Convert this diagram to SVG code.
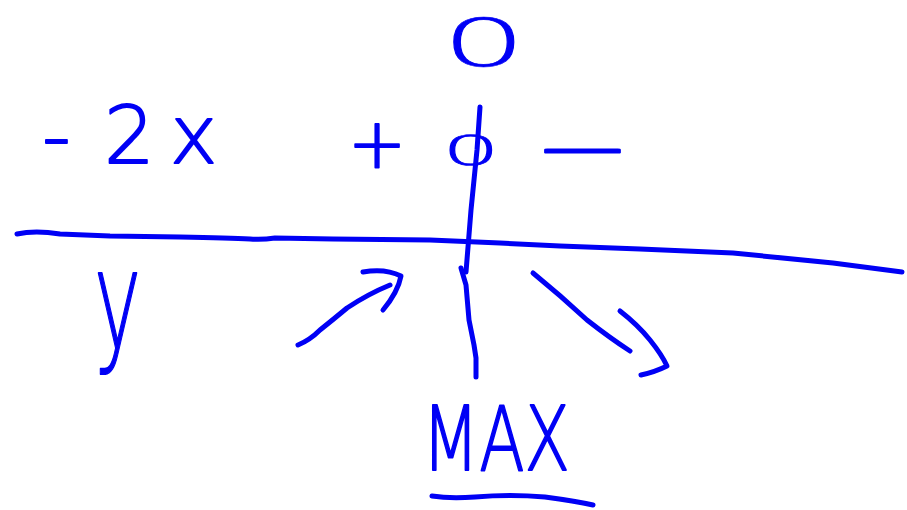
<svg xmlns="http://www.w3.org/2000/svg" width="907" height="510" viewBox="0 0 907 510">
<style>
.ink{fill:none;stroke:#0000f5;stroke-width:5;stroke-linecap:round;stroke-linejoin:round}
.t{fill:#0000f5;stroke:#0000f5;stroke-width:1.8;stroke-linejoin:round;font-family:"DejaVu Sans","Liberation Sans",sans-serif;font-weight:200}
.z{fill:#0000f5;stroke:#0000f5;stroke-width:0.6;font-family:"DejaVu Sans","Liberation Sans",sans-serif;font-weight:200}
</style>
<rect width="907" height="510" fill="#ffffff"/>
<g id="connectors">
<path class="ink" d="M17,234 Q35,230 60,234 L110,236 L180,237 Q230,238 250,239 Q262,240 275,238 L333,239 L430,240 L500,243 L560,246 L640,249 L733,253 L833,263 L902,272"/>
<path class="ink" d="M480,107 L477,150 L471,210 L466,272"/>
<path class="ink" d="M461,268 L466,285 L469,320 L474,345 L476,358 L476,377"/>
<path class="ink" d="M298,345 Q310,340 320,330 Q335,318 347,308 Q368,294 390,285"/>
<path class="ink" d="M363,272 Q385,268 401,276 Q398,292 383,310"/>
<path class="ink" d="M533,273 Q560,295 587,320 Q610,338 630,351"/>
<path class="ink" d="M620,311 Q638,325 650,340 Q662,355 667,366 Q655,372 641,375"/>
<path class="ink" d="M432,496 Q450,499 475,497 Q510,494 545,497 Q575,501 593,505"/>
</g>
<g id="top-zero"><text class="z" x="484" y="66" font-size="65" text-anchor="middle" textLength="84" lengthAdjust="spacingAndGlyphs">0</text></g>
<g id="derivative"><text class="t" font-size="80" x="42 104 170" y="163">-2x</text></g>
<g id="plus"><text class="t" x="377" y="167" font-size="70" text-anchor="middle">+</text></g>
<g id="mid-zero"><text class="z" x="471" y="165" font-size="41" text-anchor="middle" textLength="58" lengthAdjust="spacingAndGlyphs">0</text></g>
<g id="minus"><text class="t" x="534" y="173" font-size="80" textLength="97" lengthAdjust="spacingAndGlyphs">-</text></g>
<g id="y-label"><text class="t" x="94" y="348" font-size="137" textLength="47" lengthAdjust="spacingAndGlyphs">y</text></g>
<g id="max-label"><text class="t" x="422" y="470" font-size="89" textLength="148" lengthAdjust="spacingAndGlyphs">MAX</text></g>
</svg>
